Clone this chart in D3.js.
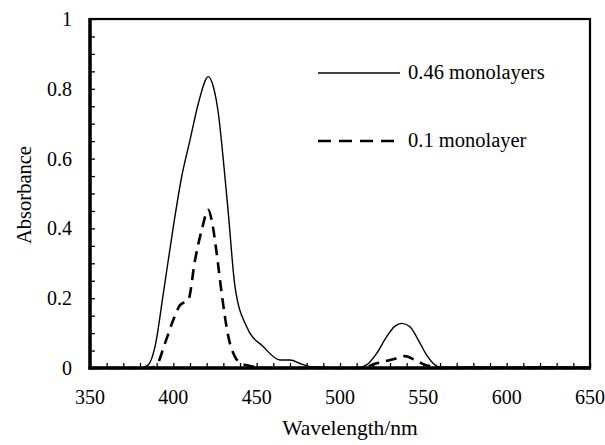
<!DOCTYPE html>
<html>
<head>
<meta charset="utf-8">
<script src="https://cdn.jsdelivr.net/npm/d3@7"></script>
<style>
  body { margin: 0; background: #fff; }
</style>
</head>
<body>
<div id="chart"></div>
<script>
// Data: wavelength (nm) and absorbance
const wl46 = [350, 380, 385, 389, 394, 400, 405, 410, 415, 421, 424, 427, 430, 433, 437, 444, 454, 464, 470, 477, 482, 490, 500, 510, 516, 522, 528, 533, 537, 542, 547, 552, 557, 560, 580, 600, 620, 650];
const abs46 = [0, 0, 0.009, 0.061, 0.214, 0.405, 0.548, 0.653, 0.758, 0.835, 0.806, 0.73, 0.596, 0.443, 0.233, 0.118, 0.061, 0.023, 0.023, 0.011, 0.004, 0.002, 0, 0, 0.009, 0.042, 0.09, 0.12, 0.128, 0.118, 0.08, 0.037, 0.009, 0.002, 0.003, 0.002, 0.004, 0.002];

const wl01 = [350, 386, 390, 395, 400, 404, 409, 413, 417, 421, 423, 426, 429, 433, 437, 441, 446, 455, 500, 515, 519, 526, 532, 539, 545, 551, 556, 560, 600, 650];
const abs01 = [0, 0, 0.009, 0.071, 0.138, 0.18, 0.195, 0.309, 0.395, 0.453, 0.424, 0.329, 0.214, 0.09, 0.032, 0.013, 0.006, 0, 0, 0, 0.009, 0.018, 0.025, 0.034, 0.023, 0.009, 0.004, 0, 0, 0];

const xTicks = [350, 400, 450, 500, 550, 600, 650];
const yTicks = [0, 0.2, 0.4, 0.6, 0.8, 1];
const legendLabels = ["0.46 monolayers", "0.1 monolayer"];

const width = 605, height = 445;
const margin = {left: 90, right: 15, top: 19, bottom: 77};
const serif = "'Liberation Serif'";

const svg = d3.select("#chart")
    .append("svg")
    .attr("width", width)
    .attr("height", height);

const x = d3.scaleLinear().domain([350, 650]).range([margin.left, width - margin.right]);
const y = d3.scaleLinear().domain([0, 1]).range([height - margin.bottom, margin.top]);

// minor ticks (inward)
const minorX = d3.range(350, 651, 10);
const minorY = d3.range(0, 1.001, 0.05);

svg.append("g")
    .attr("transform", "translate(0," + y(0) + ")")
    .call(d3.axisTop(x).tickValues(minorX).tickSize(5).tickFormat(""))
    .call(g => g.select(".domain").remove())
    .selectAll("line").attr("stroke-width", 1.3);

svg.append("g")
    .attr("transform", "translate(" + x(350) + ",0)")
    .call(d3.axisRight(y).tickValues(minorY).tickSize(5).tickFormat(""))
    .call(g => g.select(".domain").remove())
    .selectAll("line").attr("stroke-width", 1.3);

// tick labels
svg.append("g")
    .selectAll("text")
    .data(xTicks)
    .enter()
    .append("text")
    .attr("x", d => x(d))
    .attr("y", y(0) + 36)
    .attr("text-anchor", "middle")
    .style("font-family", serif)
    .style("font-size", "20px")
    .text(d => d);

svg.append("g")
    .selectAll("text")
    .data(yTicks)
    .enter()
    .append("text")
    .attr("x", x(350) - 18)
    .attr("y", d => y(d))
    .attr("dy", "0.35em")
    .attr("text-anchor", "end")
    .style("font-family", serif)
    .style("font-size", "20px")
    .text(d => d);

// frame
svg.append("rect")
    .attr("x", x(350))
    .attr("y", y(1))
    .attr("width", x(650) - x(350))
    .attr("height", y(0) - y(1))
    .style("fill", "none")
    .style("stroke", "black")
    .style("stroke-width", 2.2);
svg.append("line")
    .attr("x1", x(350)).attr("x2", x(350))
    .attr("y1", y(1) - 1).attr("y2", y(0) + 1.5)
    .style("stroke", "black").style("stroke-width", 3.5);
svg.append("line")
    .attr("x1", x(350) - 1.5).attr("x2", x(650) + 1)
    .attr("y1", y(0)).attr("y2", y(0))
    .style("stroke", "black").style("stroke-width", 3.5);

// curves
const line = d3.line()
    .x(d => x(d[0]))
    .y(d => y(d[1]))
    .curve(d3.curveMonotoneX);

svg.append("path")
    .datum(wl46.map((w, i) => [w, abs46[i]]))
    .attr("d", line)
    .style("fill", "none")
    .style("stroke", "black")
    .style("stroke-width", 1.4);

svg.append("path")
    .datum(wl01.map((w, i) => [w, abs01[i]]))
    .attr("d", line)
    .style("fill", "none")
    .style("stroke", "black")
    .style("stroke-width", 2.6)
    .style("stroke-dasharray", "11,7");

// legend
const legend = svg.append("g");
const legendY = [73, 141];
legend.selectAll("line")
    .data(legendLabels)
    .enter()
    .append("line")
    .attr("x1", 318)
    .attr("x2", 400)
    .attr("y1", (d, i) => legendY[i])
    .attr("y2", (d, i) => legendY[i])
    .style("stroke", "black")
    .style("stroke-width", (d, i) => i === 0 ? 1.4 : 2.6)
    .style("stroke-dasharray", (d, i) => i === 0 ? null : "13,8");
legend.selectAll("text")
    .data(legendLabels)
    .enter()
    .append("text")
    .attr("x", 408)
    .attr("y", (d, i) => legendY[i] + 6)
    .style("font-family", serif)
    .style("font-size", "20.5px")
    .text(d => d);

// axis titles
svg.append("text")
    .attr("x", 350)
    .attr("y", 435)
    .attr("text-anchor", "middle")
    .style("font-family", serif)
    .style("font-size", "21.5px")
    .text("Wavelength/nm");

svg.append("text")
    .attr("transform", "translate(31,195) rotate(-90)")
    .attr("text-anchor", "middle")
    .style("font-family", serif)
    .style("font-size", "20.5px")
    .text("Absorbance");
</script>
</body>
</html>
